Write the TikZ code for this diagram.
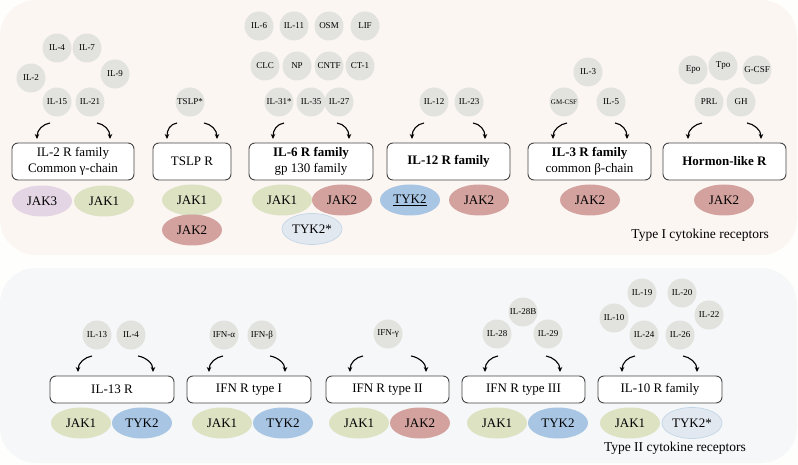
\documentclass[tikz,border=0pt]{standalone}
\usepackage{fontspec}
\setmainfont{Liberation Serif}
\usetikzlibrary{shapes.geometric,arrows.meta}
\definecolor{pageBg}{HTML}{FEFEFC}
\definecolor{topBg}{HTML}{FCF6F3}
\definecolor{botBg}{HTML}{F5F7F8}
\definecolor{cytoGray}{HTML}{E2E3DF}
\definecolor{jakOne}{HTML}{DCE2C2}
\definecolor{jakTwo}{HTML}{D3A29E}
\definecolor{jakThree}{HTML}{E4D5E5}
\definecolor{tykTwo}{HTML}{A8C5E4}
\definecolor{tykStar}{HTML}{E2E8F0}
\definecolor{tykStarLine}{HTML}{C3D6E8}
\definecolor{boxLine}{HTML}{444444}
\newcommand\cyarrows[7]{%
  \coordinate (#1ls) at (#2,#6); \coordinate (#1le) at (#3,#7);
  \coordinate (#1rs) at (#4,#6); \coordinate (#1re) at (#5,#7);
  \draw[arr] (#1ls) .. controls +(-7,1) and +(0,-9) .. (#1le);
  \draw[arr] (#1rs) .. controls +(7,1) and +(0,-9) .. (#1re);}
\begin{document}
\begin{tikzpicture}[x=1pt,y=-1pt,
  cyto/.style={circle, fill=cytoGray, minimum size=29pt, inner sep=0pt, font=\fontsize{9}{10}\selectfont},
  rbox/.style={draw=boxLine, line width=0.9pt, fill=white, rounded corners=6pt, minimum height=37pt, align=center, font=\fontsize{13}{16}\selectfont, inner sep=0pt},
  lbox/.style={rbox, minimum height=27pt},
  jak/.style={ellipse, minimum width=60pt, minimum height=31pt, inner sep=0pt, font=\fontsize{13}{15}\selectfont},
  arr/.style={-{Stealth[length=5pt,width=4.5pt]}, line width=1.1pt},
  lab/.style={font=\fontsize{13.5}{15}\selectfont, inner sep=0pt}]
\fill[pageBg] (0,0) rectangle (798,465);
\useasboundingbox (0,0) rectangle (798,465);
\fill[topBg, rounded corners=36pt] (0,0) rectangle (797,255);
\fill[botBg, rounded corners=36pt] (0,268) rectangle (797,463);

% ---------- Type I ----------
% IL-2 family
\node[cyto] (c-il4) at (57,48) {IL-4};
\node[cyto] (c-il7) at (87,48) {IL-7};
\node[cyto] (c-il2) at (31,78) {IL-2};
\node[cyto] (c-il9) at (115,74) {IL-9};
\node[cyto] (c-il15) at (57,102) {IL-15};
\node[cyto] (c-il21) at (90,102) {IL-21};
\node[rbox, minimum width=122pt] (b-il2) at (73,161.5) {IL-2 R family\\Common γ-chain};
\node[jak, fill=jakThree] (j-il2a) at (42,201) {JAK3};
\node[jak, fill=jakOne] (j-il2b) at (104,201) {JAK1};
\cyarrows{a}{50}{37}{97}{110}{123}{139}

% TSLP
\node[cyto] (c-tslp) at (190,102) {TSLP*};
\node[rbox, minimum width=78pt] (b-tslp) at (192,161.5) {TSLP R};
\node[jak, fill=jakOne] (j-tslpa) at (192,200) {JAK1};
\node[jak, fill=jakTwo] (j-tslpb) at (192,230) {JAK2};
\cyarrows{b}{177}{167}{204}{217}{123}{139}

% IL-6 family
\node[cyto] (c-il6) at (259,26) {IL-6};
\node[cyto] (c-il11) at (294,26) {IL-11};
\node[cyto] (c-osm) at (329,26) {OSM};
\node[cyto] (c-lif) at (365,26) {LIF};
\node[cyto] (c-clc) at (265,66) {CLC};
\node[cyto] (c-np) at (297,66) {NP};
\node[cyto] (c-cntf) at (329,66) {CNTF};
\node[cyto] (c-ct1) at (360,66) {CT-1};
\node[cyto] (c-il31) at (279,102) {IL-31*};
\node[cyto] (c-il35) at (311,102) {IL-35};
\node[cyto] (c-il27) at (339,102) {IL-27};
\node[rbox, minimum width=124pt] (b-il6) at (311,161.5) {\textbf{IL-6 R family}\\gp 130 family};
\node[jak, fill=jakOne] (j-il6a) at (282,200) {JAK1};
\node[jak, fill=jakTwo] (j-il6b) at (342,200) {JAK2};
\node[jak, fill=tykStar, draw=tykStarLine, line width=0.7pt] (j-il6c) at (312,229) {TYK2*};
\cyarrows{c}{284}{273}{337}{349}{123}{139}

% IL-12 family
\node[cyto] (c-il12) at (434,102) {IL-12};
\node[cyto] (c-il23) at (469,102) {IL-23};
\node[rbox, minimum width=123pt] (b-il12) at (448.5,161.5) {\textbf{IL-12 R family}};
\node[jak, fill=tykTwo] (j-il12a) at (410,200) {\underline{TYK2}};
\node[jak, fill=jakTwo] (j-il12b) at (479,200) {JAK2};
\cyarrows{d}{424}{412}{473}{485}{123}{139}

% IL-3 family
\node[cyto] (c-il3) at (588,72) {IL-3};
\node[cyto, font=\fontsize{7}{8}\selectfont] (c-gmcsf) at (564,102) {GM-CSF};
\node[cyto] (c-il5) at (611,102) {IL-5};
\node[rbox, minimum width=123pt] (b-il3) at (589.5,161.5) {\textbf{IL-3 R family}\\common β-chain};
\node[jak, fill=jakTwo] (j-il3) at (590,200) {JAK2};
\cyarrows{e}{567}{553}{615}{627}{123}{139}

% Hormon-like
\node[cyto] (c-epo) at (693,70) {Epo};
\node[cyto] (c-tpo) at (723,66) {Tpo};
\node[cyto] (c-gcsf) at (757,70) {G-CSF};
\node[cyto] (c-prl) at (709,102) {PRL};
\node[cyto] (c-gh) at (741,102) {GH};
\node[rbox, minimum width=123pt] (b-horm) at (724.5,161.5) {\textbf{Hormon-like R}};
\node[jak, fill=jakTwo] (j-horm) at (724,200) {JAK2};
\cyarrows{f}{702}{688}{747}{761}{123}{139}

\node[lab, anchor=east] (t-one) at (769,235) {Type I cytokine receptors};

% ---------- Type II ----------
\node[cyto] (c-il13) at (97,335) {IL-13};
\node[cyto] (c-il4b) at (131,335) {IL-4};
\node[lbox, minimum width=124pt] (b-il13) at (112,389.5) {IL-13 R};
\node[jak, fill=jakOne] (j-il13a) at (81,423) {JAK1};
\node[jak, fill=tykTwo] (j-il13b) at (142,423) {TYK2};
\cyarrows{g}{92}{78}{138}{153}{356}{372}

\node[cyto] (c-ifna) at (224,335) {IFN-α};
\node[cyto] (c-ifnb) at (262,335) {IFN-β};
\node[lbox, minimum width=124pt] (b-ifn1) at (249,389.5) {IFN R type I};
\node[jak, fill=jakOne] (j-ifn1a) at (222,423) {JAK1};
\node[jak, fill=tykTwo] (j-ifn1b) at (283,423) {TYK2};
\cyarrows{h}{223}{209}{270}{285}{356}{372}

\node[cyto] (c-ifng) at (388,334) {IFN-γ};
\node[lbox, minimum width=123pt] (b-ifn2) at (387.5,389.5) {IFN R type II};
\node[jak, fill=jakOne] (j-ifn2a) at (359,423) {JAK1};
\node[jak, fill=jakTwo] (j-ifn2b) at (420,423) {JAK2};
\cyarrows{i}{363}{350}{411}{426}{356}{372}

\node[cyto] (c-il28) at (497,334) {IL-28};
\node[cyto] (c-il28b) at (523,312) {IL-28B};
\node[cyto] (c-il29) at (548,334) {IL-29};
\node[lbox, minimum width=123pt] (b-ifn3) at (523.5,389.5) {IFN R type III};
\node[jak, fill=jakOne] (j-ifn3a) at (497,423) {JAK1};
\node[jak, fill=tykTwo] (j-ifn3b) at (558,423) {TYK2};
\cyarrows{j}{498}{485}{546}{560}{356}{372}

\node[cyto] (c-il19) at (642,293) {IL-19};
\node[cyto] (c-il20) at (682,293) {IL-20};
\node[cyto] (c-il10) at (614,318) {IL-10};
\node[cyto] (c-il22) at (709,315) {IL-22};
\node[cyto] (c-il24) at (644,335) {IL-24};
\node[cyto] (c-il26) at (680,335) {IL-26};
\node[lbox, minimum width=124pt] (b-il10) at (660,389.5) {IL-10 R family};
\node[jak, fill=jakOne] (j-il10a) at (630,423) {JAK1};
\node[jak, fill=tykStar, draw=tykStarLine, line width=0.7pt] (j-il10b) at (692,423) {TYK2*};
\cyarrows{k}{635}{622}{683}{697}{356}{372}

\node[lab] (t-two) at (675,448) {Type II cytokine receptors};
\end{tikzpicture}
\end{document}
